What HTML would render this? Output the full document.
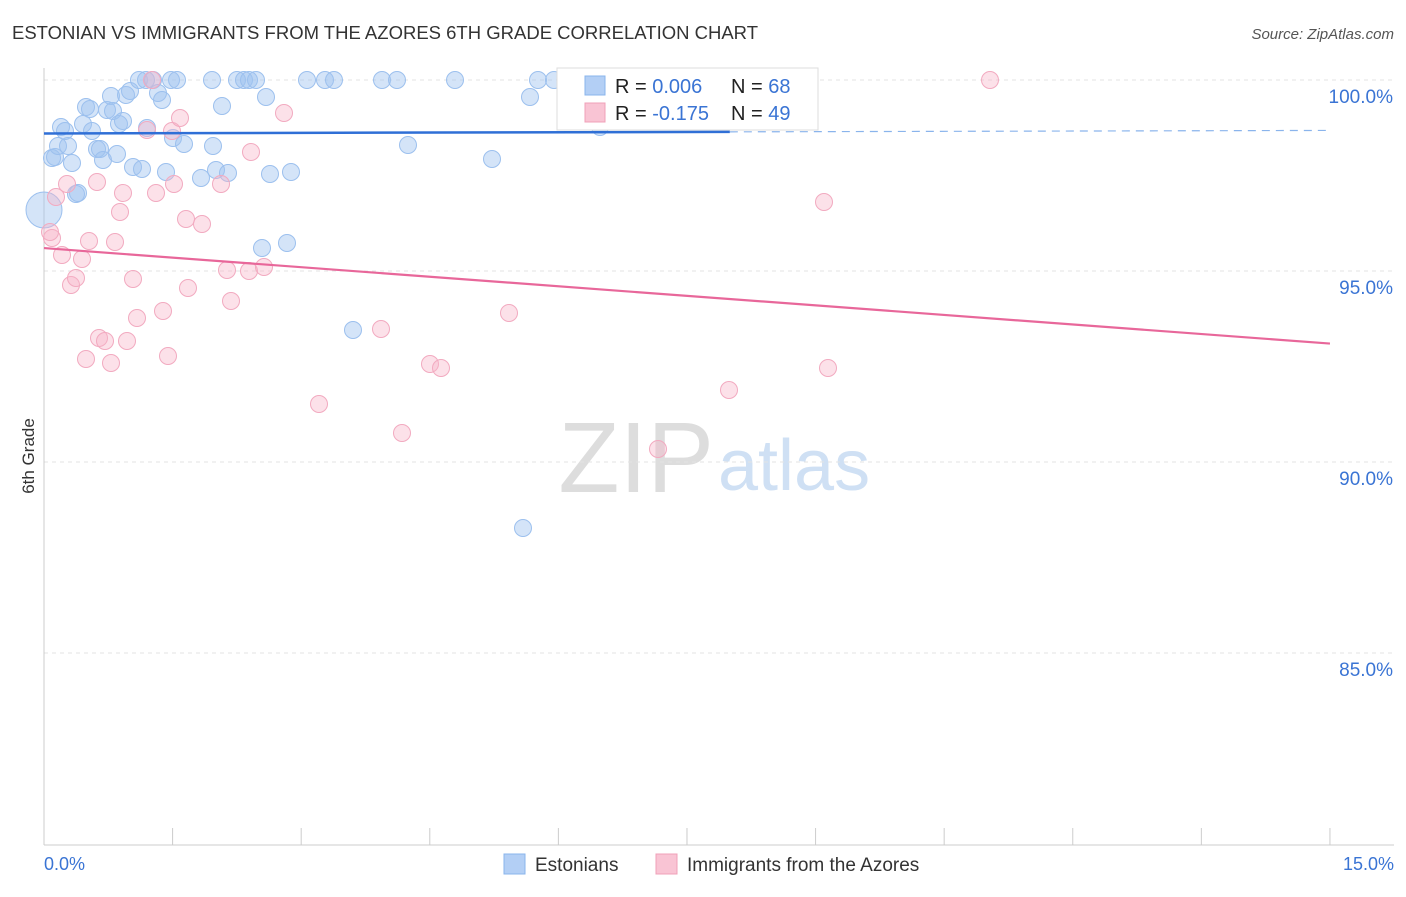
<!DOCTYPE html>
<html><head><meta charset="utf-8"><style>
body{margin:0;background:#fff;font-family:"Liberation Sans",sans-serif;}
svg text{font-family:"Liberation Sans",sans-serif;}
</style></head><body>
<svg id="chart" width="1406" height="892">
<text x="12" y="39" font-size="18.5" fill="#333" textLength="746">ESTONIAN VS IMMIGRANTS FROM THE AZORES 6TH GRADE CORRELATION CHART</text>
<text x="1394" y="39" font-size="15" fill="#555" font-style="italic" text-anchor="end">Source: ZipAtlas.com</text>
<text x="34" y="456" font-size="17" fill="#333" transform="rotate(-90 34 456)" text-anchor="middle">6th Grade</text>
<text x="714" y="492" font-size="100" fill="#ddd" text-anchor="end" font-family="Liberation Serif">ZIP</text>
<text x="718" y="490" font-size="72" fill="#cfe0f4">atlas</text>
<g id="grid"></g><g id="pts"></g><g id="trend"></g>
<g>
<rect x="557" y="68" width="261" height="62" fill="#fff" stroke="#ddd"/>
<rect x="585" y="76" width="20" height="19" fill="#b3cff5" stroke="#8ab4ec"/>
<rect x="585" y="103" width="20" height="19" fill="#f9c4d4" stroke="#f0a0b8"/>
<text x="615" y="93" font-size="20" fill="#222">R = <tspan fill="#3a74d4">0.006</tspan></text>
<text x="731" y="93" font-size="20" fill="#222">N = <tspan fill="#3a74d4">68</tspan></text>
<text x="615" y="120" font-size="20" fill="#222">R = <tspan fill="#3a74d4">-0.175</tspan></text>
<text x="731" y="120" font-size="20" fill="#222">N = <tspan fill="#3a74d4">49</tspan></text>
</g>
<g>
<rect x="504" y="854" width="21" height="20" fill="#b3cff5" stroke="#8ab4ec"/>
<text x="535" y="871" font-size="19" fill="#333">Estonians</text>
<rect x="656" y="854" width="21" height="20" fill="#f9c4d4" stroke="#f0a0b8"/>
<text x="687" y="871" font-size="19" fill="#333">Immigrants from the Azores</text>
</g>
<text x="44" y="870" font-size="18" fill="#3a74d4">0.0%</text>
<text x="1394" y="870" font-size="18" fill="#3a74d4" text-anchor="end">15.0%</text>
</svg>
<script>
const yTicks=[100,95,90,85];
const blueX=[52,55,61,65,58,68,72,76,78,83,86,90,92,97,100,103,107,111,113,117,119,123,126,130,133,139,142,146,147,153,158,162,166,171,173,177,184,201,212,213,216,222,228,237,244,249,256,262,266,270,287,291,307,325,334,353,382,397,408,455,492,523,530,538,554,600,717].map(p=>(p-44)/85.73);
const blueY=[158,157,127,131,146,146,163,194,193,124,107,109,131,149,149,160,110,96,111,154,124,121,95,91,167,80,169,80,128,80,93,100,172,80,138,80,144,178,80,146,170,106,173,80,80,80,80,248,97,174,243,172,80,80,80,330,80,80,145,80,159,528,97,80,80,127,80].map(p=>100-(p-80)/38.2);
const pinkX=[52,50,56,62,67,71,76,82,86,89,97,99,105,111,115,120,123,127,133,137,147,152,156,163,168,172,174,180,186,188,202,221,227,231,249,251,264,284,319,381,402,430,441,509,658,729,824,828,990].map(p=>(p-44)/85.73);
const pinkY=[238,232,197,255,184,285,278,259,359,241,182,338,341,363,242,212,193,341,279,318,130,80,193,311,356,131,184,118,219,288,224,184,270,301,271,152,267,113,404,329,433,364,368,313,449,390,202,368,80].map(p=>100-(p-80)/38.2);
const blueTrend=[98.6,98.68];
const pinkTrend=[95.6,93.1];
const NS="http://www.w3.org/2000/svg";
const xs=v=>44+v*85.73, ys=v=>80+(100-v)*38.2;
function mk(t,a,p){const e=document.createElementNS(NS,t);for(const k in a)e.setAttribute(k,a[k]);p.appendChild(e);return e;}
const g=document.getElementById('grid');
yTicks.forEach(v=>{const l=mk('line',{x1:44,x2:1394,y1:ys(v),y2:ys(v),stroke:'#e3e3e3','stroke-dasharray':'4,4'},g);


const t=mk('text',{x:1393,y:ys(v)+23,'font-size':19,fill:'#3a74d4','text-anchor':'end'},g);t.textContent=v.toFixed(1)+'%';

});
mk('line',{x1:44,x2:44,y1:68,y2:845,stroke:'#ccc'},g);
mk('line',{x1:44,x2:1394,y1:845,y2:845,stroke:'#ccc'},g);
for(let i=1;i<=10;i++){const t=mk('line',{x1:xs(i*1.5),x2:xs(i*1.5),y1:828,y2:845,stroke:'#ccc'},g);

}
const pg=document.getElementById('pts');
blueX.forEach((x,i)=>{const c=mk('circle',{cx:xs(x),cy:ys(blueY[i]),r:8.5,fill:'rgba(160,195,240,0.45)',stroke:'#9cc0ee'},pg);

});
const big=mk('circle',{cx:44,cy:210,r:18,fill:'rgba(160,195,240,0.45)',stroke:'#9cc0ee'},pg);


pinkX.forEach((x,i)=>{const c=mk('circle',{cx:xs(x),cy:ys(pinkY[i]),r:8.5,fill:'rgba(248,180,200,0.4)',stroke:'#f2aac0'},pg);

});
const tg=document.getElementById('trend');
const bt=v=>blueTrend[0]+(blueTrend[1]-blueTrend[0])*v/15;
let l=mk('line',{x1:xs(0),y1:ys(bt(0)),x2:xs(8),y2:ys(bt(8)),stroke:'#2f6fd6','stroke-width':2.5},tg);


l=mk('line',{x1:xs(8),y1:ys(bt(8)),x2:xs(15),y2:ys(bt(15)),stroke:'#8ab4ec','stroke-width':1.2,'stroke-dasharray':'8,6'},tg);


l=mk('line',{x1:xs(0),y1:ys(pinkTrend[0]),x2:xs(15),y2:ys(pinkTrend[1]),stroke:'#e8679a','stroke-width':2.2},tg);


</script>
</body></html>
